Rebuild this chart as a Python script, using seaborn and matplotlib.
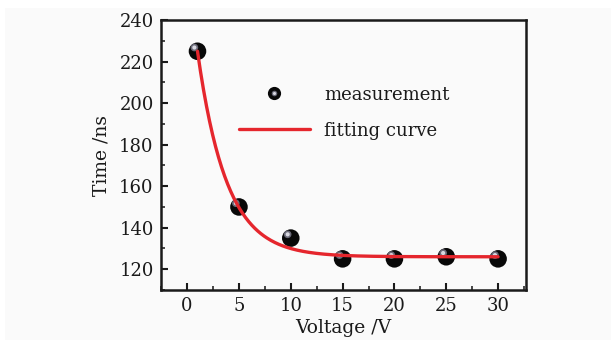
import numpy as np
import pandas as pd
import matplotlib
matplotlib.use("Agg")
import matplotlib.pyplot as plt
import seaborn as sns
from matplotlib.lines import Line2D
from matplotlib.patches import Rectangle
from matplotlib.legend_handler import HandlerTuple
from matplotlib.ticker import MultipleLocator

# ---- data ----
voltage = [1, 5, 10, 15, 20, 25, 30]
time_ns = [225, 150, 135, 125, 125, 126, 125]
# exponential fit parameters: y = y0 + A*exp(-(x - x0)/t)
fit_y0 = 126.0
fit_A = 99.0
fit_x0 = 1.0
fit_t = 2.8
fit_x = np.linspace(1, 30, 300)
fit_y = fit_y0 + fit_A * np.exp(-(fit_x - fit_x0) / fit_t)

x_ticks = [0, 5, 10, 15, 20, 25, 30]
y_ticks = [120, 140, 160, 180, 200, 220, 240]

sns.set_theme(style="ticks")
plt.rcParams['font.family'] = ['DejaVu Serif']
plt.rcParams['mathtext.fontset'] = 'dejavuserif'

bg = '#fafafa'
fig = plt.figure(figsize=(6.11, 3.41), dpi=100, facecolor='white')
fig.patches.append(Rectangle((5 / 611, 1 / 341), 606 / 611, 332 / 341,
                             transform=fig.transFigure, facecolor=bg,
                             edgecolor='none', zorder=-10))
ax = fig.add_axes([0.263, 0.1496, 0.598, 0.7914])
ax.set_zorder(1)
ax.set_facecolor(bg)

df_fit = pd.DataFrame({"x": fit_x, "y": fit_y})
df = pd.DataFrame({"x": voltage, "y": time_ns})

red = '#e5262d'
sns.scatterplot(data=df, x="x", y="y", s=160, color='#080808', edgecolor='none',
                ax=ax, zorder=3)
# glossy highlight on the spheres
hl = df.copy()
hl["x"] = hl["x"] - 0.3
hl["y"] = hl["y"] + 1.8
sns.scatterplot(data=hl, x="x", y="y", s=30, color='#6a6a78', edgecolor='none',
                ax=ax, zorder=4)
sns.scatterplot(data=hl, x="x", y="y", s=9, color='#d8d8e0', edgecolor='none',
                ax=ax, zorder=4)
sns.lineplot(data=df_fit, x="x", y="y", color=red, lw=2.4, ax=ax, zorder=5)

ax.set_xlim(-2.55, 32.7)
ax.set_ylim(110, 240)
ax.set_xticks(x_ticks)
ax.set_yticks(y_ticks)
ax.xaxis.set_minor_locator(MultipleLocator(2.5))
ax.yaxis.set_minor_locator(MultipleLocator(10))
ax.tick_params(axis='both', which='major', direction='in', length=5, width=1.5,
               labelsize=13, colors='#1a1a1a', pad=5, top=False, right=False)
ax.tick_params(axis='both', which='minor', direction='in', length=3, width=1.2,
               top=False, right=False)
for s in ax.spines.values():
    s.set_linewidth(1.8)
    s.set_color('#1a1a1a')

ax.set_xlabel("Voltage /V", fontsize=13.5, color='#1a1a1a', labelpad=3)
ax.set_ylabel("Time /ns", fontsize=13.5, color='#1a1a1a', labelpad=6)

h_meas = (Line2D([], [], marker='o', ls='none', color='#080808', markersize=9.5,
                 markeredgewidth=0),
          Line2D([], [], marker='o', ls='none', color='#6a6a78', markersize=4,
                 markeredgewidth=0),
          Line2D([], [], marker='o', ls='none', color='#d8d8e0', markersize=2.2,
                 markeredgewidth=0))
h_fit = Line2D([], [], color=red, lw=2.4)
leg = ax.legend([h_meas, h_fit], ["measurement", "fitting curve"],
                handler_map={tuple: HandlerTuple(ndivide=1, pad=0)},
                loc='upper left', bbox_to_anchor=(0.215, 0.757), frameon=False,
                fontsize=13, handlelength=3.9, handletextpad=0.8,
                labelspacing=1.0, borderpad=0, borderaxespad=0)
for t in leg.get_texts():
    t.set_color('#1a1a1a')

fig.savefig("out.png", dpi=100, facecolor='white')
